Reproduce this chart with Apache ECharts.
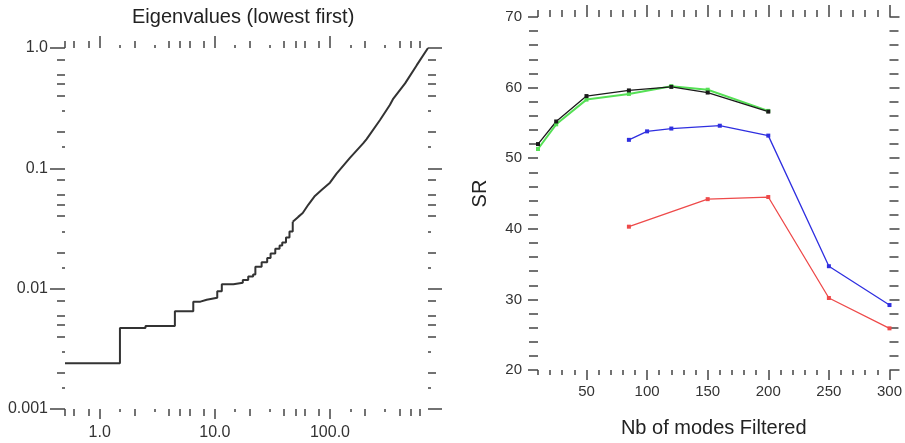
<!doctype html>
<html>
<head>
<meta charset="utf-8">
<title>Eigenvalues / SR</title>
<style>
html,body{margin:0;padding:0;background:#fff;}
#chart{width:905px;height:443px;}
</style>
</head>
<body>
<div id="chart"></div>
<script src="https://cdn.jsdelivr.net/npm/echarts@6/dist/echarts.min.js"></script>
<script>
// ---- left panel: eigenvalue spectrum, lowest first (log-log) ----
// stair part: edges of each step (step:'end')
var eigStepX = [0.5, 1.5, 2.5, 4.5, 6.5, 7.5, 8.5, 10.5, 11.5, 14.5, 17.5, 19.5, 21.5, 22.5, 25.5, 28.5, 30.5, 33.5, 36.5, 38.5, 41.5, 44.5, 47.5];
var eigStepY = [0.0024, 0.0047, 0.0049, 0.0065, 0.0078, 0.0081, 0.0084, 0.0095, 0.0109, 0.0112, 0.0118, 0.0126, 0.0131, 0.0152, 0.0166, 0.0180, 0.0196, 0.0215, 0.0228, 0.0242, 0.0266, 0.0298, 0.0360];
// upper part of the spectrum
var eigX = [47.5, 53, 58, 65, 74, 85, 100, 114, 149, 194, 208, 272, 331, 355, 449, 567, 710];
var eigY = [0.0360, 0.0395, 0.0425, 0.0500, 0.0590, 0.0665, 0.0760, 0.0905, 0.122, 0.161, 0.175, 0.252, 0.336, 0.380, 0.508, 0.720, 1.0];

var eigXTicks = [1, 10, 100];
var eigXLabels = ['1.0', '10.0', '100.0'];
var eigYTicks = [0.001, 0.01, 0.1, 1];
var eigYLabels = ['0.001', '0.01', '0.1', '1.0'];
var minorMant = [2, 4, 5, 6, 8];
var dotMant = [1.5, 3];

// ---- right panel: SR vs number of filtered modes ----
var modesK = [10, 25, 50, 85, 120, 150, 200];
var srBlack = [52.0, 55.2, 58.8, 59.6, 60.1, 59.3, 56.6];
var srGreen = [51.3, 54.8, 58.3, 59.1, 60.2, 59.7, 56.7];
var modesB = [85, 100, 120, 160, 200, 250, 300];
var srBlue = [52.6, 53.8, 54.2, 54.6, 53.2, 34.7, 29.2];
var modesR = [85, 150, 200, 250, 300];
var srRed = [40.3, 44.2, 44.5, 30.2, 25.9];
var modeTicks = [50, 100, 150, 200, 250, 300];
var modeMinor = [10, 20, 30, 40, 60, 70, 80, 90, 110, 120, 130, 140, 160, 170, 180, 190, 210, 220, 230, 240, 260, 270, 280, 290];

var FONT = "'Liberation Sans', Arial, Helvetica, sans-serif";
var TICK = '#444';

function zip(xs, ys) {
    var out = [];
    for (var i = 0; i < xs.length; i++) out.push([xs[i], ys[i]]);
    return out;
}
// tick positions at mantissa * 10^e inside [lo, hi]
function logTicks(mants, lo, hi) {
    var out = [];
    for (var e = -4; e <= 3; e++) {
        mants.forEach(function (m) {
            var v = +(m * Math.pow(10, e)).toPrecision(6);
            if (v >= lo && v <= hi) out.push(v);
        });
    }
    return out;
}
function pickLabel(ticks, labels) {
    return function (v) {
        for (var i = 0; i < ticks.length; i++) {
            if (Math.abs(Math.log10(v) - Math.log10(ticks[i])) < 1e-6) return labels[i];
        }
        return '';
    };
}
// axis that only draws ticks
function tickAxis(type, grid, pos, min, max, ticks, len) {
    var a = {
        type: type, gridIndex: grid, position: pos, min: min, max: max,
        axisLine: {show: false, onZero: false},
        splitLine: {show: false},
        axisTick: {show: true, inside: false, length: len, customValues: ticks,
            lineStyle: {color: TICK, width: 1.5}},
        axisLabel: {show: false}
    };
    if (type === 'log') a.logBase = 10;
    return a;
}

var X0 = 0.5, X1 = 710, Y0 = 0.001, Y1 = 1;

var xAxes = [];
var yAxes = [];

// left grid, x
var lx = tickAxis('log', 0, 'bottom', X0, X1, eigXTicks, 10);
lx.axisLabel = {show: true, customValues: eigXTicks, margin: 16, fontSize: 16, color: '#333',
    fontFamily: FONT, formatter: pickLabel(eigXTicks, eigXLabels)};
xAxes.push(lx);                                                                       // 0
xAxes.push(tickAxis('log', 0, 'bottom', X0, X1, [X0].concat(logTicks(minorMant, 0.55, X1)), 7));
xAxes.push(tickAxis('log', 0, 'bottom', X0, X1, logTicks(dotMant, X0, X1), 3));
xAxes.push(tickAxis('log', 0, 'top', X0, X1, eigXTicks, 12));
xAxes.push(tickAxis('log', 0, 'top', X0, X1, [X0].concat(logTicks(minorMant, 0.55, X1)), 7));
xAxes.push(tickAxis('log', 0, 'top', X0, X1, logTicks(dotMant, X0, X1), 3));

// right grid, x
var rx = tickAxis('value', 1, 'bottom', 10, 300, modeTicks, 10);                    // 6
rx.axisLabel = {show: true, customValues: modeTicks, margin: 14, fontSize: 15, color: '#333', fontFamily: FONT};
rx.name = 'Nb of modes Filtered';
rx.nameLocation = 'middle';
rx.nameGap = 48;
rx.nameTextStyle = {fontSize: 20, color: '#222', fontFamily: FONT};
xAxes.push(rx);
xAxes.push(tickAxis('value', 1, 'bottom', 10, 300, modeMinor, 5));
xAxes.push(tickAxis('value', 1, 'top', 10, 300, modeTicks, 12));
xAxes.push(tickAxis('value', 1, 'top', 10, 300, modeMinor, 7));

// left grid, y
var ly = tickAxis('log', 0, 'left', Y0, Y1, eigYTicks, 15);
ly.axisLabel = {show: true, customValues: eigYTicks, margin: 17, fontSize: 16, color: '#333',
    fontFamily: FONT, formatter: pickLabel(eigYTicks, eigYLabels)};
yAxes.push(ly);                                                                       // 0
yAxes.push(tickAxis('log', 0, 'left', Y0, Y1, logTicks(minorMant, Y0, Y1), 8));
yAxes.push(tickAxis('log', 0, 'left', Y0, Y1, logTicks(dotMant, Y0, Y1), 3));
yAxes.push(tickAxis('log', 0, 'right', Y0, Y1, eigYTicks, 14));
yAxes.push(tickAxis('log', 0, 'right', Y0, Y1, logTicks(minorMant, Y0, Y1), 8));
yAxes.push(tickAxis('log', 0, 'right', Y0, Y1, logTicks(dotMant, Y0, Y1), 3));

// right grid, y
function srAxis(pos) {
    return {
        type: 'value', gridIndex: 1, position: pos, min: 20, max: 70, interval: 10,
        axisLine: {show: false, onZero: false},
        splitLine: {show: false},
        axisTick: {show: true, length: 10, lineStyle: {color: TICK, width: 1.5}},
        minorTick: {show: true, splitNumber: 5, length: 9, lineStyle: {color: TICK, width: 1.5}},
        minorSplitLine: {show: false},
        axisLabel: {show: false}
    };
}
var ry = srAxis('left');                                                             // 6
ry.axisLabel = {show: true, margin: 16, fontSize: 15, color: '#333', fontFamily: FONT};
ry.name = 'SR';
ry.nameLocation = 'middle';
ry.nameGap = 48;
ry.nameTextStyle = {fontSize: 20, color: '#222', fontFamily: FONT};
yAxes.push(ry);
yAxes.push(srAxis('right'));

function srLine(xs, ys, color, width) {
    return {
        type: 'line', xAxisIndex: 6, yAxisIndex: 6, data: zip(xs, ys),
        symbol: 'rect', symbolSize: 4, showSymbol: true,
        lineStyle: {color: color, width: width},
        itemStyle: {color: color},
        animation: false
    };
}

var chart = echarts.init(document.getElementById('chart'));
chart.setOption({
    backgroundColor: '#fff',
    animation: false,
    title: {
        text: 'Eigenvalues (lowest first)',
        left: 132, top: 7, padding: 0,
        textStyle: {fontSize: 20, fontWeight: 'normal', color: '#222', fontFamily: FONT}
    },
    grid: [
        {left: 65, right: 477, top: 48, bottom: 34},
        {left: 538, right: 13, top: 17, bottom: 70}
    ],
    xAxis: xAxes,
    yAxis: yAxes,
    series: [
        {type: 'line', xAxisIndex: 0, yAxisIndex: 0, step: 'end', showSymbol: false,
            data: zip(eigStepX, eigStepY), lineStyle: {color: '#333', width: 2}},
        {type: 'line', xAxisIndex: 0, yAxisIndex: 0, showSymbol: false,
            data: zip(eigX, eigY), lineStyle: {color: '#333', width: 2}},
        srLine(modesR, srRed, '#ee4a4a', 1.3),
        srLine(modesB, srBlue, '#2f2fe0', 1.3),
        srLine(modesK, srGreen, '#55e055', 2),
        srLine(modesK, srBlack, '#1a1a1a', 1.3)
    ]
});
</script>
</body>
</html>
